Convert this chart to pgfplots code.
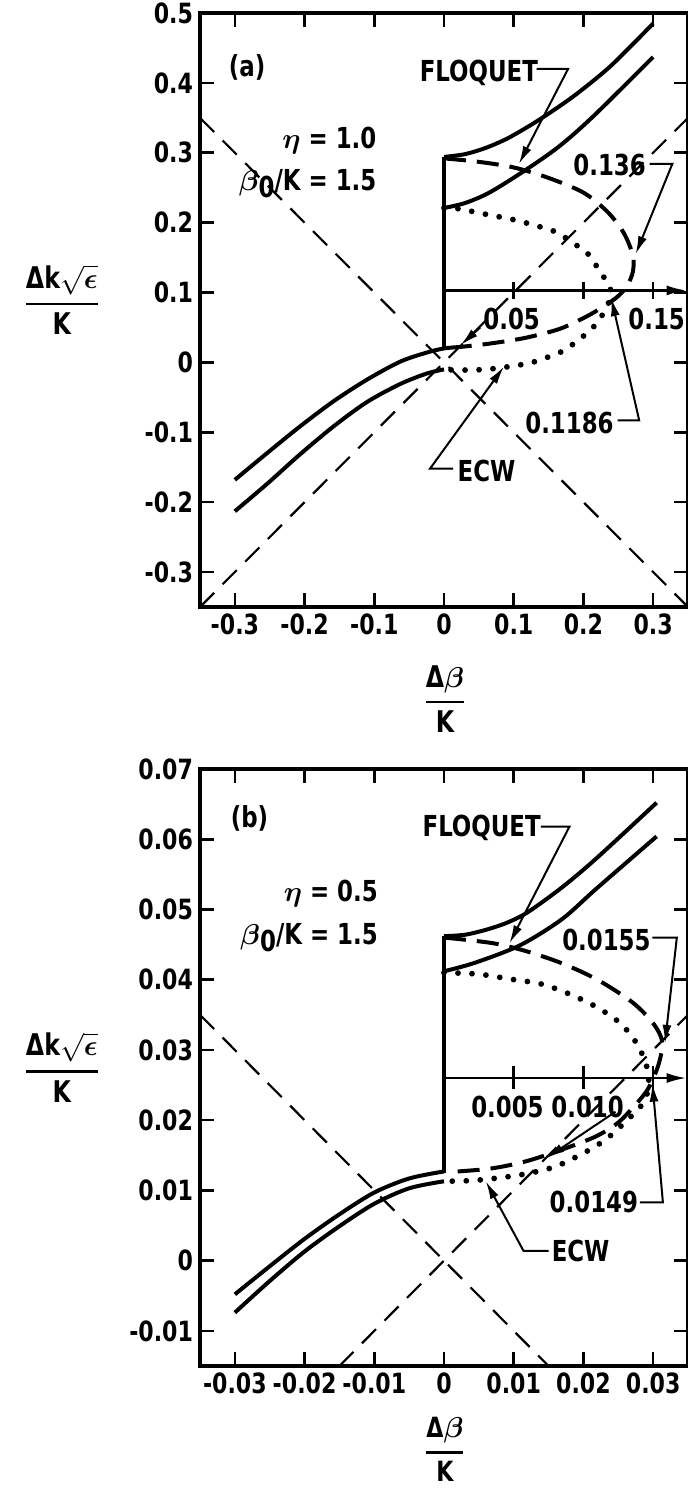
\documentclass[border=0pt]{standalone}
\usepackage{fontspec}
\setmainfont{DejaVu Sans Condensed}[FakeStretch=0.88]
\usepackage{amsmath}
\usepackage{bm}
\usepackage{pgfplots}
\pgfplotsset{compat=1.18}
\usetikzlibrary{arrows.meta}

\newcommand{\annot}{\bfseries\fontsize{14.5}{16}\selectfont}
\newcommand{\ylab}{$\genfrac{}{}{1.3bp}{0}{\mbox{\bfseries Δk}\sqrt{\bm\epsilon}}{\mbox{\bfseries K}}$}
\newcommand{\xlab}{$\genfrac{}{}{1.3bp}{0}{\mbox{\bfseries Δ}\bm\beta}{\mbox{\bfseries K}}$}

\tikzset{
  leadarr/.style={black, line width=1bp, -{Latex[length=9bp,width=4.5bp]}},
}
\pgfplotsset{
  panel/.style={
    scale only axis, width=244bp, anchor=south west, clip=false,
    scaled ticks=false,
    axis line style={line width=1.7bp},
    tick style={line width=1.3bp, black},
    major tick length=7bp,
    tick align=inside,
    every tick label/.append style={font=\bfseries\fontsize{14}{14}\selectfont},
    ylabel style={rotate=-90, anchor=center, font=\fontsize{15}{17}\selectfont},
    xlabel={\xlab}, ylabel={\ylab},
  },
  floq/.style={black, line width=2bp, smooth, tension=0.5},
  diag/.style={black, line width=1.1bp, dash pattern=on 10bp off 6bp},
  dsh/.style={black, line width=2bp, dash pattern=on 11bp off 5.5bp, smooth, tension=0.5},
  dot/.style={black, line width=2.9bp, line cap=round, dash pattern=on 0bp off 7bp, smooth, tension=0.5},
  inner/.style={black, line width=1.3bp},
}

\begin{document}
\begin{tikzpicture}
\path[use as bounding box] (0,0) rectangle (344bp,745bp);

% ---------------- (a) eta = 1.0 ----------------
\begin{axis}[panel, at={(100bp,441.5bp)}, height=297bp,
  xmin=-0.35, xmax=0.35, ymin=-0.35, ymax=0.5,
  xtick={-0.3,-0.2,-0.1,0,0.1,0.2,0.3},
  xticklabels={-0.3,-0.2,-0.1,0,0.1,0.2,0.3},
  ytick={-0.3,-0.2,-0.1,0,0.1,0.2,0.3,0.4,0.5},
  yticklabels={-0.3,-0.2,-0.1,0,0.1,0.2,0.3,0.4,0.5},
  xlabel style={at={(axis description cs:0.502,-0.155)}, anchor=center, font=\fontsize{15}{17}\selectfont},
  ylabel style={at={(axis description cs:-0.283,0.517)}},
]
% light lines
\addplot[diag] coordinates {(-0.35,0.35) (0.35,-0.35)};
\addplot[diag] coordinates {(-0.35,-0.35) (0.35,0.35)};
% Floquet branches, left
\addplot[floq] coordinates {(-0.30,-0.168) (-0.254,-0.130) (-0.207,-0.092) (-0.159,-0.056) (-0.111,-0.025) (-0.063,0.001) (-0.025,0.014) (0,0.020) (0.022,0.022)};
\addplot[floq] coordinates {(-0.30,-0.213) (-0.254,-0.174) (-0.207,-0.132) (-0.159,-0.092) (-0.111,-0.057) (-0.063,-0.031) (-0.025,-0.016) (0,-0.010)};
% Floquet branches, right
\addplot[black, line width=2bp] coordinates {(0,0.020) (0,0.294)};
\addplot[floq] coordinates {(0,0.294) (0.03,0.298) (0.06,0.307) (0.09,0.320) (0.12,0.337) (0.15,0.356) (0.19,0.384) (0.24,0.425) (0.30,0.485)};
\addplot[floq] coordinates {(0,0.221) (0.03,0.228) (0.065,0.243) (0.115,0.274) (0.165,0.309) (0.215,0.353) (0.30,0.437)};
% ECW branches
\addplot[dsh] coordinates {(0.0,0.292) (0.05,0.287) (0.10,0.279) (0.15,0.264) (0.20,0.243) (0.235,0.215) (0.258,0.185) (0.271,0.153) (0.271,0.130) (0.263,0.110) (0.250,0.095) (0.232,0.082) (0.205,0.066) (0.166,0.048) (0.116,0.035) (0.066,0.027) (0.022,0.022)};
\addplot[dot] coordinates {(0.0,0.221) (0.02,0.220) (0.065,0.211) (0.105,0.203) (0.16,0.187) (0.18,0.174) (0.205,0.157) (0.22,0.136) (0.233,0.116) (0.240,0.100) (0.236,0.085) (0.226,0.066) (0.211,0.047) (0.19,0.030) (0.17,0.016) (0.13,0.001) (0.10,-0.005) (0.06,-0.010) (0.02,-0.011) (0.0,-0.010)};
% inner scale
\addplot[inner, -{Latex[length=10bp,width=5bp]}] coordinates {(0,0.103) (0.348,0.103)};
\addplot[inner] coordinates {(0.1,0.091) (0.1,0.115)};
\addplot[inner] coordinates {(0.2,0.091) (0.2,0.115)};
\addplot[inner] coordinates {(0.3,0.091) (0.3,0.115)};
\node[font=\annot] at (axis cs:0.097,0.062) {0.05};
\node[font=\annot] at (axis cs:0.305,0.062) {0.15};
% annotations
\node[font=\annot] at (axis cs:-0.2825,0.422) {(a)};
\node[font=\annot, anchor=east] at (axis cs:-0.087,0.318) {$\bm\eta$ = 1.0};
\node[font=\annot, anchor=east] at (axis cs:-0.087,0.256) {$\bm\beta$\raisebox{-0.45ex}{0}/K = 1.5};
\node[font=\annot] at (axis cs:0.05,0.415) {FLOQUET};
\draw[leadarr] (axis cs:0.133,0.420) -- (axis cs:0.178,0.420) -- (axis cs:0.1075,0.284);
\node[font=\annot] at (axis cs:0.2375,0.282) {0.136};
\draw[leadarr] (axis cs:0.295,0.284) -- (axis cs:0.3275,0.284) -- (axis cs:0.275,0.155);
\draw[leadarr] (axis cs:0.052,0.050) -- (axis cs:0.024,0.025);
\node[font=\annot] at (axis cs:0.18,-0.087) {0.1186};
\draw[leadarr] (axis cs:0.249,-0.083) -- (axis cs:0.280,-0.083) -- (axis cs:0.240,0.092);
\node[font=\annot] at (axis cs:0.061,-0.155) {ECW};
\draw[leadarr] (axis cs:0.013,-0.152) -- (axis cs:-0.020,-0.152) -- (axis cs:0.086,-0.006);
\end{axis}

% ---------------- (b) eta = 0.5 ----------------
\begin{axis}[panel, at={(100bp,62bp)}, height=298.5bp,
  xmin=-0.035, xmax=0.035, ymin=-0.015, ymax=0.07,
  xtick={-0.03,-0.02,-0.01,0,0.01,0.02,0.03},
  xticklabels={-0.03,-0.02,-0.01,0,0.01,0.02,0.03},
  ytick={-0.01,0,0.01,0.02,0.03,0.04,0.05,0.06,0.07},
  yticklabels={-0.01,0,0.01,0.02,0.03,0.04,0.05,0.06,0.07},
  xlabel style={at={(axis description cs:0.502,-0.14)}, anchor=center, font=\fontsize{14}{16}\selectfont},
  ylabel style={at={(axis description cs:-0.283,0.5)}},
]
\addplot[diag] coordinates {(-0.035,0.035) (0.015,-0.015)};
\addplot[diag] coordinates {(-0.015,-0.015) (0.035,0.035)};
% Floquet branches, left
\addplot[floq] coordinates {(-0.030,-0.0048) (-0.025,-0.0008) (-0.020,0.0031) (-0.015,0.0066) (-0.010,0.0097) (-0.005,0.0117) (0,0.0127)};
\addplot[floq] coordinates {(-0.030,-0.0074) (-0.025,-0.0029) (-0.020,0.0013) (-0.015,0.0049) (-0.010,0.0081) (-0.005,0.0103) (0,0.0113)};
% Floquet branches, right
\addplot[black, line width=2bp] coordinates {(0,0.0125) (0,0.0462)};
\addplot[floq] coordinates {(0,0.0462) (0.003,0.0464) (0.006,0.0471) (0.009,0.0481) (0.012,0.0496) (0.017,0.0532) (0.022,0.0574) (0.0305,0.0652)};
\addplot[floq] coordinates {(0,0.0412) (0.0044,0.0424) (0.0109,0.0449) (0.0169,0.0486) (0.0219,0.0530) (0.0305,0.0604)};
% ECW branches
\addplot[dsh] coordinates {(0.0,0.0460) (0.007,0.0452) (0.012,0.0440) (0.017,0.0423) (0.022,0.0400) (0.027,0.0368) (0.030,0.0338) (0.0313,0.0312) (0.0308,0.0280) (0.0293,0.0245) (0.0272,0.0219) (0.0248,0.0195) (0.0216,0.0176) (0.0166,0.0157) (0.0116,0.0141) (0.0066,0.0131) (0.0006,0.0126)};
\addplot[dot] coordinates {(0.0,0.0410) (0.0049,0.0408) (0.0094,0.0401) (0.0139,0.0394) (0.0179,0.0380) (0.0219,0.0361) (0.0254,0.0337) (0.0279,0.0305) (0.0293,0.0268) (0.0292,0.0240) (0.0284,0.0222) (0.0269,0.0206) (0.0250,0.0188) (0.0230,0.0171) (0.0200,0.0153) (0.0160,0.0134) (0.0120,0.0124) (0.0080,0.0118) (0.0040,0.0114) (0.0,0.0113)};
% inner scale
\addplot[inner, -{Latex[length=10bp,width=5bp]}] coordinates {(0,0.026) (0.0348,0.026)};
\addplot[inner] coordinates {(0.01,0.0245) (0.01,0.0277)};
\addplot[inner] coordinates {(0.02,0.0245) (0.02,0.0277)};
\addplot[inner] coordinates {(0.03,0.0245) (0.03,0.0277)};
\node[font=\annot] at (axis cs:0.0091,0.0219) {0.005};
\node[font=\annot] at (axis cs:0.0206,0.0219) {0.010};
% annotations
\node[font=\annot] at (axis cs:-0.0279,0.0630) {(b)};
\node[font=\annot, anchor=east] at (axis cs:-0.0085,0.0522) {$\bm\eta$ = 0.5};
\node[font=\annot, anchor=east] at (axis cs:-0.0085,0.0460) {$\bm\beta$\raisebox{-0.45ex}{0}/K = 1.5};
\node[font=\annot] at (axis cs:0.0054,0.0616) {FLOQUET};
\draw[leadarr] (axis cs:0.0139,0.0618) -- (axis cs:0.0180,0.0618) -- (axis cs:0.0094,0.0452);
\node[font=\annot] at (axis cs:0.0233,0.0457) {0.0155};
\draw[leadarr] (axis cs:0.0299,0.0460) -- (axis cs:0.0334,0.0460) -- (axis cs:0.0317,0.0310);
\draw[leadarr] (axis cs:0.0246,0.0212) -- (axis cs:0.0147,0.0146);
\node[font=\annot] at (axis cs:0.0215,0.0083) {0.0149};
\draw[leadarr] (axis cs:0.0281,0.0083) -- (axis cs:0.0314,0.0083) -- (axis cs:0.0299,0.0252);
\node[font=\annot] at (axis cs:0.0196,0.0014) {ECW};
\draw[leadarr] (axis cs:0.0150,0.0014) -- (axis cs:0.0114,0.0014) -- (axis cs:0.0060,0.0113);
\end{axis}
\end{tikzpicture}
\end{document}
